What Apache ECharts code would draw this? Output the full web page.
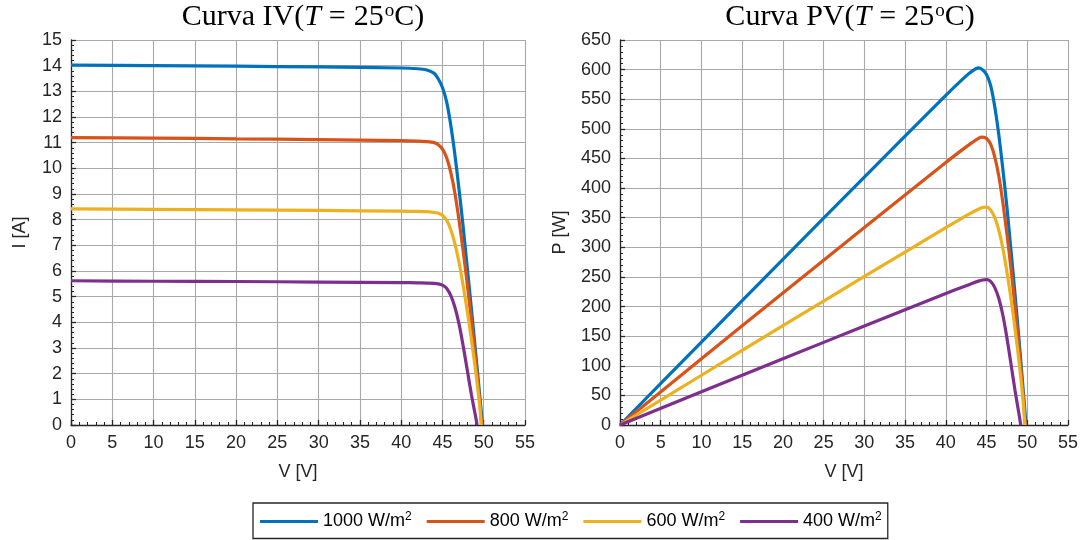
<!DOCTYPE html>
<html>
<head>
<meta charset="utf-8">
<script src="https://cdn.jsdelivr.net/npm/echarts@6/dist/echarts.min.js"></script>
<style>
  html, body { margin: 0; padding: 0; background: #ffffff; }
  #chart { width: 1081px; height: 540px; }
</style>
</head>
<body>
<div id="chart"></div>
<script>
// Irradiance levels (W/m^2) and their line colours
const irradiance = [1000, 800, 600, 400];
const colors = ['#0072BD', '#D95319', '#EDB120', '#7E2F8E'];

// Voltage samples [V] for each curve
const v1000 = [0, 10, 20, 30, 40, 42, 43, 44, 44.5, 45, 45.5, 46, 46.5, 47, 47.5, 48, 48.5, 49, 49.5, 49.85];
const v800  = [0, 10, 20, 30, 40, 42, 43, 44, 44.5, 45, 45.5, 46, 46.5, 47, 47.5, 48, 48.5, 49, 49.5, 49.75];
const v600  = [0, 10, 20, 30, 40, 42, 43, 44, 44.5, 45, 45.5, 46, 46.5, 47, 47.5, 48, 48.5, 49, 49.5, 49.7];
const v400  = [0, 10, 20, 30, 40, 42, 43, 44, 44.5, 45, 45.5, 46, 46.5, 47, 47.5, 48, 48.5, 49, 49.2];

// Current [A]
const i1000 = [14.02, 14.0, 13.98, 13.95, 13.91, 13.88, 13.84, 13.7, 13.48, 13.15, 12.6, 11.7, 10.55, 9.2, 7.75, 6.15, 4.55, 2.9, 1.2, 0];
const i800  = [11.2, 11.18, 11.15, 11.12, 11.08, 11.06, 11.04, 11.0, 10.92, 10.75, 10.42, 9.85, 9.05, 8.0, 6.8, 5.5, 4.1, 2.6, 1.0, 0];
const i600  = [8.42, 8.4, 8.38, 8.36, 8.33, 8.32, 8.31, 8.28, 8.25, 8.17, 7.98, 7.62, 7.08, 6.35, 5.45, 4.45, 3.35, 2.15, 0.8, 0];
const i400  = [5.62, 5.6, 5.59, 5.57, 5.55, 5.54, 5.53, 5.52, 5.5, 5.45, 5.33, 5.05, 4.6, 3.95, 3.1, 2.15, 1.2, 0.35, 0];

// Power [W]
const p1000 = [0, 140, 279.6, 418.5, 556.4, 583, 595.1, 602.8, 599.9, 591.8, 573.3, 538.2, 490.6, 432.4, 368.1, 295.2, 220.7, 142.1, 59.4, 0];
const p800  = [0, 111.8, 223, 333.6, 443.2, 464.5, 474.7, 484, 485.9, 483.8, 474.1, 453.1, 420.8, 376, 323, 264, 198.9, 127.4, 49.5, 0];
const p600  = [0, 84, 167.6, 250.8, 333.2, 349.4, 357.3, 364.3, 367.1, 367.7, 363.1, 350.5, 329.2, 298.5, 258.9, 213.6, 162.5, 105.4, 39.6, 0];
const p400  = [0, 56, 111.8, 167.1, 222, 232.7, 237.8, 242.9, 244.8, 245.3, 242.5, 232.3, 213.9, 185.7, 147.3, 103.2, 58.2, 17.2, 0];

const vSets = [v1000, v800, v600, v400];
const iSets = [i1000, i800, i600, i400];
const pSets = [p1000, p800, p600, p400];

const TXT = '#262626';
const GRID = '#a8a8a8';
const SANS = 'Liberation Sans, Arial, sans-serif';
const SERIF = 'Liberation Serif, DejaVu Serif, serif';

const pairs = (xs, ys) => xs.map((x, k) => [x, ys[k]]);
const nameOf = g => g + ' W/m2';

// Main axis: labels, dark axis line, inward major ticks, grid lines
function axis(gridIndex, min, max, interval, position, extra) {
  return Object.assign({
    type: 'value',
    gridIndex: gridIndex,
    position: position,
    min: min, max: max, interval: interval,
    axisLine: { show: true, onZero: false, lineStyle: { color: TXT, width: 1.3 } },
    axisTick: { show: true, inside: true, length: 5, lineStyle: { color: TXT, width: 1.3 } },
    axisLabel: { color: TXT, fontSize: 18, fontFamily: SANS, margin: 9, showMinLabel: true, showMaxLabel: true },
    splitLine: { show: true, lineStyle: { color: GRID, width: 1.1 } },
    nameLocation: 'middle',
    nameTextStyle: { color: TXT, fontSize: 18, fontFamily: SANS }
  }, extra);
}

// Companion axis on the same side that only draws the short inward minor ticks
function minorAxis(gridIndex, min, max, step, position) {
  return {
    type: 'value',
    gridIndex: gridIndex,
    position: position,
    offset: 0,
    min: min, max: max, interval: step,
    axisLine: { show: false, onZero: false },
    axisTick: { show: true, inside: true, length: 3, lineStyle: { color: TXT, width: 1 } },
    axisLabel: { show: false },
    splitLine: { show: false }
  };
}

function titleRich(label) {
  return {
    text: '{n|Curva ' + label + '(}{i|T}{e|=}{n|25}{s|o}{n|C)}',
    textStyle: {
      fontWeight: 'normal',
      rich: {
        n: { fontFamily: SERIF, fontSize: 30, fontWeight: 'normal', color: '#000' },
        i: { fontFamily: SERIF, fontSize: 30, fontWeight: 'normal', fontStyle: 'italic', color: '#000' },
        e: { fontFamily: SERIF, fontSize: 30, fontWeight: 'normal', color: '#000', padding: [0, 8, 0, 8] },
        s: { fontFamily: SERIF, fontSize: 19, fontWeight: 'normal', color: '#000', padding: [0, 0, 11, 1] }
      }
    }
  };
}

const series = [];
irradiance.forEach((g, k) => {
  series.push({
    name: nameOf(g), type: 'line', xAxisIndex: 0, yAxisIndex: 0,
    data: pairs(vSets[k], iSets[k]), showSymbol: false, smooth: 0.25,
    lineStyle: { color: colors[k], width: 3.2 }, itemStyle: { color: colors[k] },
    z: 3 + k
  });
  series.push({
    name: nameOf(g), type: 'line', xAxisIndex: 1, yAxisIndex: 1,
    data: pairs(vSets[k], pSets[k]), showSymbol: false, smooth: 0.25,
    lineStyle: { color: colors[k], width: 3.2 }, itemStyle: { color: colors[k] },
    z: 3 + k
  });
});

const chart = echarts.init(document.getElementById('chart'), null, { renderer: 'canvas' });
chart.setOption({
  backgroundColor: '#ffffff',
  animation: false,
  title: [
    Object.assign({ left: 298, top: -3, textAlign: 'center' }, titleRich('IV')),
    Object.assign({ left: 845, top: -3, textAlign: 'center' }, titleRich('PV'))
  ],
  grid: [
    { left: 71, top: 40, width: 454, height: 385 },
    { left: 620, top: 40, width: 450, height: 385 }
  ],
  xAxis: [
    axis(0, 0, 55, 5, 'bottom', { name: 'V [V]', nameGap: 38 }),
    axis(1, 0, 55, 5, 'bottom', { name: 'V [V]', nameGap: 38 }),
    minorAxis(0, 0, 55, 1, 'bottom'),
    minorAxis(1, 0, 55, 1, 'bottom')
  ],
  yAxis: [
    axis(0, 0, 15, 1, 'left', { name: 'I [A]', nameGap: 42 }),
    axis(1, 0, 650, 50, 'left', { name: 'P [W]', nameGap: 51 }),
    minorAxis(0, 0, 15, 0.2, 'left'),
    minorAxis(1, 0, 650, 10, 'left')
  ],
  legend: {
    data: irradiance.map(nameOf),
    left: 253, top: 503,
    padding: [8, 6, 8, 7],
    itemGap: 15,
    itemWidth: 58, itemHeight: 3,
    icon: 'rect',
    borderColor: TXT, borderWidth: 1.3,
    backgroundColor: '#ffffff',
    formatter: name => '{t|' + name.slice(0, -1) + '}{s|2}',
    textStyle: {
      rich: {
        t: { fontFamily: SANS, fontSize: 18, color: '#000' },
        s: { fontFamily: SANS, fontSize: 12, color: '#000', padding: [0, 0, 9, 0] }
      }
    }
  },
  series: series
});
</script>
</body>
</html>
